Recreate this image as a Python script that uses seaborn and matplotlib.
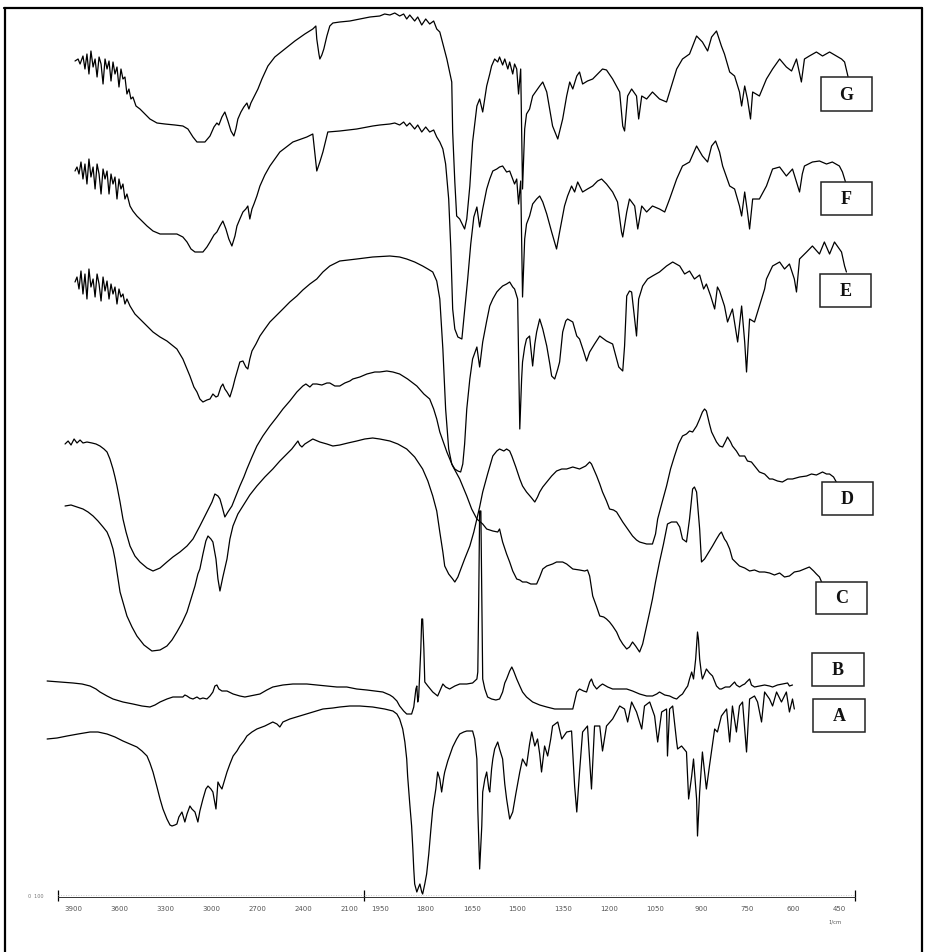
import numpy as np
import matplotlib
matplotlib.use("Agg")
import matplotlib.pyplot as plt
import seaborn as sns
from matplotlib.patches import Rectangle
from matplotlib.lines import Line2D

sns.set_theme(style="white")
plt.rcParams["font.family"] = ["DejaVu Sans"]

# ---------------- data (wavenumber in 1/cm, stacked transmittance in arbitrary units) -------------
g_wn = [3889, 3869, 3856, 3837, 3824, 3811, 3798, 3785, 3771, 3758, 3745, 3732, 3719, 3706, 3693, 3680, 3667, 3654,
        3641, 3628, 3615, 3602, 3589, 3576, 3563, 3550, 3537, 3524, 3511, 3491, 3465, 3432, 3400, 3354, 3302, 3237,
        3185, 3152, 3119, 3093, 3041, 3008, 2982, 2963, 2950, 2930, 2911, 2891, 2871, 2852, 2839, 2826, 2806, 2787,
        2767, 2754, 2741, 2721, 2695, 2669, 2630, 2585, 2519, 2454, 2389, 2337, 2317, 2311, 2297, 2291, 2278, 2265,
        2245, 2226, 2206, 2161, 2095, 2030, 1982, 1950, 1934, 1917, 1901, 1885, 1872, 1862, 1852, 1836, 1826, 1813,
        1800, 1787, 1774, 1764, 1754, 1731, 1715, 1712, 1705, 1699, 1689, 1673, 1666, 1656, 1647, 1633, 1624, 1614,
        1601, 1591, 1585, 1575, 1565, 1559, 1549, 1542, 1532, 1526, 1516, 1510, 1503, 1497, 1490, 1484, 1477, 1471,
        1461, 1451, 1428, 1418, 1405, 1386, 1369, 1353, 1340, 1330, 1320, 1307, 1298, 1288, 1272, 1255, 1239, 1223,
        1210, 1190, 1167, 1157, 1151, 1141, 1128, 1112, 1105, 1095, 1079, 1060, 1037, 1014, 1004, 981, 962, 939, 916,
        897, 880, 867, 851, 835, 825, 808, 792, 776, 769, 759, 750, 740, 733, 711, 688, 668, 645, 623, 606, 590, 574,
        564, 548, 525, 505, 482, 460, 443, 433, 420]
g_t = [836, 838, 833, 841, 828, 843, 823, 846, 830, 838, 820, 840, 833, 813, 838, 828, 836, 816,
       835, 823, 830, 810, 828, 818, 820, 803, 808, 798, 800, 791, 788, 783, 778, 774, 773, 772,
       771, 768, 760, 755, 755, 761, 770, 774, 772, 780, 785, 776, 766, 761, 768, 778, 785, 790,
       794, 788, 794, 800, 808, 818, 831, 840, 848, 856, 863, 868, 871, 858, 843, 838, 842, 848,
       861, 871, 874, 875, 876, 878, 880, 881, 883, 882, 884, 881, 883, 878, 882, 876, 880, 872,
       878, 873, 876, 868, 865, 838, 815, 765, 715, 681, 678, 668, 678, 711, 755, 791, 798, 785,
       811, 823, 831, 838, 835, 840, 832, 838, 828, 835, 823, 833, 828, 803, 828, 708, 768, 783,
       788, 801, 811, 815, 805, 771, 758, 778, 801, 815, 808, 821, 825, 813, 816, 818, 823, 828,
       827, 818, 805, 771, 766, 801, 808, 801, 778, 801, 798, 805, 798, 795, 805, 828, 838, 843, 861,
       855, 846, 860, 866, 851, 843, 825, 821, 805, 791, 811, 798, 778, 805, 801, 818, 828, 838, 830, 826, 838, 815,
       838, 841, 845, 841, 845, 841, 838, 835, 818]

f_wn = [3889, 3876, 3863, 3850, 3837, 3824, 3811, 3798, 3785, 3771, 3758, 3745, 3732, 3719, 3706, 3693, 3680, 3667,
        3654, 3641, 3628, 3615, 3602, 3589, 3576, 3563, 3550, 3530, 3511, 3485, 3452, 3419, 3380, 3334, 3269, 3224,
        3185, 3158, 3132, 3106, 3054, 3028, 3008, 2982, 2963, 2943, 2924, 2904, 2885, 2865, 2845, 2832, 2813, 2793,
        2774, 2761, 2748, 2734, 2721, 2702, 2682, 2650, 2617, 2552, 2467, 2376, 2337, 2324, 2311, 2291, 2271, 2239,
        2161, 2050, 1973, 1950, 1917, 1901, 1885, 1872, 1862, 1852, 1836, 1826, 1813, 1800, 1787, 1774, 1764, 1754,
        1744, 1735, 1725, 1718, 1712, 1705, 1695, 1682, 1673, 1663, 1653, 1643, 1633, 1624, 1614, 1601, 1591, 1581,
        1568, 1559, 1549, 1536, 1526, 1516, 1510, 1503, 1497, 1490, 1484, 1477, 1471, 1461, 1451, 1438, 1428, 1418,
        1405, 1389, 1373, 1363, 1347, 1337, 1324, 1314, 1304, 1288, 1272, 1255, 1239, 1226, 1210, 1190, 1174, 1161,
        1157, 1144, 1135, 1118, 1108, 1095, 1079, 1060, 1037, 1020, 1004, 981, 962, 939, 916, 897, 880, 867, 854,
        841, 831, 808, 792, 776, 769, 759, 750, 743, 733, 711, 688, 668, 645, 623, 603, 590, 580, 571, 564, 538,
        515, 492, 473, 450, 440, 430]
f_t = [726, 730, 723, 735, 718, 733, 713, 738, 720, 730, 708, 733, 723, 703, 728, 718, 726, 703,
       723, 713, 720, 698, 718, 708, 713, 698, 703, 691, 686, 681, 676, 671, 666, 663, 663, 663,
       660, 655, 648, 645, 645, 650, 655, 662, 665, 671, 676, 668, 658, 651, 661, 671, 678, 685,
       688, 691, 678, 688, 693, 701, 711, 722, 731, 745, 755, 760, 763, 745, 726, 735, 745, 765,
       766, 768, 771, 772, 773, 774, 772, 775, 771, 774, 768, 772, 765, 770, 765, 767, 760, 755,
       748, 733, 698, 648, 588, 568, 560, 558, 586, 618, 653, 680, 690, 670, 688, 708, 718, 726,
       728, 730, 731, 725, 726, 718, 713, 718, 693, 716, 600, 658, 673, 681, 693, 698, 701, 695,
       683, 665, 648, 665, 691, 701, 711, 705, 715, 705, 708, 711, 716, 718, 713, 705, 695, 665,
       660, 685, 698, 691, 668, 691, 685, 691, 688, 685, 698, 718, 731, 735, 751, 741, 735, 751, 756,
       745, 731, 711, 708, 691, 681, 705, 685, 668, 698, 698, 711, 728, 730, 721, 728, 715, 705, 723, 731, 735,
       736, 733, 735, 731, 725, 715]

e_wn = [3889, 3876, 3863, 3850, 3837, 3824, 3811, 3798, 3785, 3771, 3758, 3745, 3732, 3719, 3706, 3693, 3680, 3667,
        3654, 3641, 3628, 3615, 3602, 3589, 3576, 3563, 3550, 3530, 3498, 3465, 3419, 3380, 3334, 3289, 3256, 3224,
        3185, 3158, 3139, 3113, 3093, 3074, 3054, 3028, 3008, 2989, 2969, 2956, 2937, 2924, 2911, 2897, 2878, 2858,
        2845, 2826, 2813, 2793, 2774, 2761, 2748, 2734, 2708, 2682, 2650, 2617, 2571, 2532, 2487, 2441, 2402, 2356,
        2311, 2271, 2226, 2161, 2050, 1973, 1917, 1885, 1862, 1836, 1810, 1793, 1777, 1764, 1754, 1744, 1735, 1725,
        1715, 1705, 1695, 1686, 1679, 1673, 1666, 1656, 1647, 1633, 1624, 1614, 1601, 1591, 1581, 1568, 1559, 1549,
        1536, 1526, 1516, 1510, 1500, 1493, 1487, 1484, 1477, 1471, 1461, 1451, 1444, 1438, 1428, 1418, 1405, 1395,
        1389, 1379, 1369, 1363, 1353, 1343, 1337, 1320, 1307, 1298, 1285, 1275, 1265, 1249, 1232, 1219, 1210, 1190,
        1170, 1157, 1151, 1144, 1135, 1128, 1118, 1112, 1105, 1092, 1076, 1060, 1037, 1014, 994, 971, 955, 939, 923,
        906, 893, 884, 870, 857, 848, 841, 825, 815, 799, 782, 769, 759, 753, 743, 727, 711, 694, 688, 668, 645,
        629, 613, 597, 590, 580, 557, 538, 515, 499, 482, 466, 450, 443, 433, 427]
e_t = [615, 620, 608, 626, 603, 623, 598, 628, 610, 618, 600, 623, 613, 596, 620, 606, 616, 598,
       613, 603, 610, 593, 608, 600, 603, 593, 598, 591, 583, 578, 571, 565, 560, 556, 552, 548,
       538, 528, 521, 510, 505, 498, 495, 497, 498, 503, 500, 501, 510, 513, 508, 505, 500, 510,
       518, 528, 535, 536, 530, 528, 538, 546, 553, 561, 568, 575, 582, 588, 595, 601, 607, 613,
       618, 625, 631, 636, 638, 640, 641, 640, 638, 635, 631, 628, 625, 616, 598, 548, 488, 448,
       433, 428, 426, 425, 433, 453, 488, 518, 538, 550, 530, 555, 576, 591, 598, 605, 608, 611,
       613, 615, 610, 608, 598, 468, 518, 535, 550, 558, 561, 531, 553, 565, 578, 568, 551, 533,
       521, 518, 528, 535, 565, 576, 578, 575, 561, 558, 546, 536, 545, 553, 561, 558, 556, 553,
       530, 526, 551, 601, 606, 605, 578, 561, 598, 611, 618, 621, 625, 631, 635, 631, 623, 626, 618,
       622, 608, 613, 601, 588, 610, 606, 591, 575, 588, 555, 591, 555, 525, 578, 575, 591, 608, 618, 631, 635,
       628, 633, 618, 605, 638, 645, 651, 643, 655, 643, 655, 648, 645, 631, 625]

d_wn = [3954, 3915, 3876, 3837, 3804, 3771, 3739, 3706, 3680, 3661, 3641, 3628, 3608, 3595, 3569, 3550, 3517, 3485,
        3439, 3387, 3334, 3289, 3256, 3224, 3191, 3158, 3132, 3106, 3087, 3074, 3054, 3035, 3021, 3002, 2989, 2969,
        2956, 2943, 2924, 2897, 2878, 2858, 2826, 2793, 2748, 2702, 2650, 2598, 2552, 2506, 2474, 2434, 2422, 2408,
        2389, 2337, 2291, 2245, 2206, 2161, 2108, 2050, 1999, 1973, 1950, 1917, 1891, 1862, 1836, 1810, 1793, 1777,
        1764, 1754, 1744, 1738, 1725, 1712, 1705, 1695, 1689, 1673, 1656, 1643, 1633, 1624, 1614, 1598, 1581, 1568,
        1559, 1545, 1536, 1526, 1519, 1506, 1493, 1484, 1471, 1457, 1444, 1435, 1428, 1418, 1405, 1389, 1373, 1356,
        1340, 1320, 1298, 1278, 1265, 1259, 1249, 1242, 1232, 1223, 1210, 1200, 1187, 1177, 1167, 1157, 1141, 1125,
        1112, 1102, 1079, 1060, 1050, 1043, 1030, 1014, 1001, 988, 975, 962, 949, 939, 929, 916, 906, 897, 890, 884,
        874, 867, 851, 841, 831, 821, 815, 805, 799, 786, 776, 759, 750, 737, 724, 711, 694, 678, 668, 652, 636, 619,
        603, 580, 557, 541, 525, 505, 492, 482, 469, 460]
d_t = [391, 392, 390, 388, 385, 381, 376, 370, 365, 358, 348, 338, 318, 305, 291, 281, 270, 261,
       252, 246, 247, 251, 257, 265, 274, 285, 298, 311, 323, 328, 343, 356, 361, 358, 355, 338,
       318, 306, 320, 338, 358, 371, 383, 391, 402, 411, 420, 428, 436, 443, 448, 456, 452, 450,
       453, 458, 455, 453, 451, 452, 454, 456, 458, 459, 458, 456, 453, 448, 440, 428, 416, 401,
       386, 365, 345, 331, 323, 318, 315, 320, 325, 338, 351, 365, 378, 390, 405, 423, 441, 446,
       448, 446, 448, 446, 441, 430, 418, 411, 405, 400, 395, 400, 405, 410, 415, 421, 426, 428,
       428, 430, 428, 431, 435, 433, 426, 421, 413, 405, 396, 388, 387, 385, 380, 375, 368, 361,
       357, 355, 353, 353, 363, 378, 393, 411, 428, 441, 453, 461, 463, 466, 465, 471, 478, 485, 488, 486,
       473, 465, 455, 451, 450, 456, 460, 455, 451, 446, 441, 441, 436, 435, 430, 425, 423, 418, 418, 416, 415, 418,
       418, 420, 421, 423, 422, 425, 423, 423, 420, 415]

c_wn = [3954, 3934, 3915, 3895, 3876, 3856, 3837, 3811, 3778, 3752, 3726, 3700, 3680, 3661, 3641, 3628, 3615, 3595,
        3576, 3556, 3530, 3498, 3465, 3419, 3380, 3334, 3289, 3250, 3204, 3158, 3119, 3074, 3028, 2995, 2976, 2956,
        2943, 2930, 2911, 2891, 2865, 2839, 2813, 2787, 2767, 2734, 2702, 2663, 2617, 2571, 2532, 2487, 2441, 2422,
        2402, 2382, 2356, 2337, 2311, 2278, 2245, 2226, 2193, 2161, 2128, 2095, 2076, 2030, 1992, 1966, 1950, 1927,
        1907, 1885, 1859, 1829, 1806, 1787, 1774, 1764, 1754, 1731, 1712, 1689, 1666, 1650, 1633, 1614, 1601, 1581,
        1565, 1559, 1549, 1536, 1526, 1516, 1503, 1493, 1484, 1471, 1457, 1438, 1428, 1418, 1405, 1386, 1373, 1353,
        1340, 1320, 1298, 1281, 1272, 1265, 1255, 1242, 1232, 1219, 1210, 1200, 1190, 1177, 1167, 1157, 1144, 1135,
        1125, 1115, 1102, 1092, 1079, 1069, 1060, 1050, 1037, 1024, 1011, 998, 981, 971, 962, 949, 939, 929, 923,
        916, 906, 900, 890, 884, 874, 864, 851, 841, 835, 825, 818, 808, 799, 786, 776, 759, 743, 727, 711, 694, 678,
        662, 645, 629, 613, 597, 580, 564, 548, 534, 525, 515, 508]
c_t = [453, 456, 452, 458, 454, 457, 454, 455, 454, 453, 451, 448, 445, 438, 428, 420, 411, 395,
       378, 365, 351, 341, 335, 329, 326, 329, 335, 340, 345, 351, 358, 371, 385, 395, 403, 401,
       398, 391, 380, 385, 391, 401, 411, 420, 428, 440, 451, 461, 471, 480, 488, 496, 505, 508,
       511, 513, 510, 513, 513, 512, 514, 514, 511, 511, 514, 516, 518, 520, 523, 525, 525, 526,
       525, 523, 518, 511, 503, 498, 488, 478, 465, 445, 431, 418, 401, 388, 378, 373, 368, 366,
       365, 368, 355, 343, 335, 326, 318, 317, 315, 315, 313, 313, 320, 328, 331, 333, 335, 335,
       333, 328, 327, 326, 327, 321, 301, 290, 281, 280, 278, 275, 271, 265, 258, 253, 248, 250,
       255, 251, 245, 253, 271, 285, 298, 315, 335, 353, 373, 375, 375, 370, 358, 355, 378, 408, 410,
       405, 368, 335, 338, 341, 346, 351, 358, 363, 365, 358, 355, 348, 338, 334, 331, 329, 326, 327, 325, 325, 324,
       322, 324, 320, 321, 325, 326, 328, 330, 326, 323, 320, 315]

b_wn = [4071, 3987, 3902, 3843, 3791, 3752, 3726, 3680, 3641, 3576, 3511, 3452, 3400, 3367, 3334, 3289, 3250, 3217,
        3185, 3172, 3158, 3139, 3119, 3093, 3074, 3054, 3028, 3008, 2989, 2976, 2963, 2950, 2930, 2897, 2857, 2813,
        2780, 2748, 2715, 2682, 2637, 2598, 2532, 2467, 2422, 2376, 2311, 2245, 2180, 2115, 2050, 1992, 1966, 1940,
        1917, 1907, 1894, 1885, 1872, 1862, 1846, 1839, 1836, 1832, 1829, 1826, 1823, 1816, 1813, 1810, 1806, 1803,
        1793, 1777, 1761, 1744, 1735, 1722, 1705, 1689, 1666, 1647, 1633, 1630, 1627, 1624, 1620, 1617, 1614, 1607,
        1598, 1585, 1571, 1559, 1549, 1542, 1536, 1526, 1519, 1513, 1503, 1493, 1484, 1471, 1451, 1428, 1405, 1379,
        1353, 1330, 1320, 1314, 1307, 1298, 1285, 1275, 1265, 1259, 1252, 1242, 1232, 1223, 1206, 1190, 1167, 1144,
        1125, 1102, 1079, 1060, 1046, 1037, 1020, 1004, 991, 981, 971, 962, 952, 945, 939, 932, 926, 919, 913, 910,
        906, 900, 897, 890, 884, 874, 864, 851, 841, 835, 822, 808, 792, 786, 776, 766, 759, 753, 743, 737, 727, 711,
        694, 678, 668, 652, 636, 619, 613, 603]
b_t = [216, 215, 214, 213, 211, 208, 205, 201, 198, 195, 193, 191, 190, 192, 195, 198, 200, 200,
       200, 202, 201, 199, 198, 200, 198, 199, 198, 201, 205, 211, 212, 208, 206, 206, 203, 201,
       200, 201, 202, 203, 207, 210, 212, 213, 213, 213, 212, 211, 210, 210, 208, 207, 206, 205,
       202, 200, 196, 191, 186, 183, 183, 190, 198, 208, 211, 195, 200, 248, 278, 278, 248, 215,
       211, 205, 201, 213, 210, 208, 211, 213, 213, 214, 218, 225, 298, 386, 386, 298, 218, 208,
       200, 198, 197, 198, 205, 214, 218, 226, 230, 226, 218, 211, 205, 200, 195, 192, 190, 188,
       188, 188, 188, 196, 205, 208, 206, 205, 215, 218, 212, 208, 211, 213, 210, 208, 208, 208,
       206, 203, 201, 201, 203, 205, 202, 201, 199, 198, 201, 203, 208, 211, 218, 225, 218, 238, 265, 258,
       238, 223, 218, 223, 228, 224, 221, 211, 208, 208, 210, 210, 215, 212, 210, 212, 213, 215, 218, 212, 210, 211,
       212, 211, 210, 212, 213, 214, 211, 212]

a_wn = [4071, 4006, 3941, 3869, 3791, 3739, 3680, 3628, 3576, 3530, 3485, 3452, 3419, 3400, 3380, 3354, 3334, 3315,
        3289, 3269, 3256, 3237, 3224, 3211, 3191, 3178, 3172, 3158, 3139, 3126, 3106, 3087, 3074, 3054, 3035, 3021,
        3002, 2989, 2969, 2956, 2943, 2930, 2911, 2897, 2878, 2857, 2832, 2813, 2787, 2767, 2734, 2702, 2650, 2598,
        2571, 2552, 2532, 2487, 2422, 2356, 2271, 2206, 2161, 2095, 2030, 1973, 1934, 1907, 1894, 1885, 1875, 1868,
        1862, 1859, 1852, 1846, 1842, 1839, 1836, 1829, 1823, 1819, 1813, 1810, 1803, 1797, 1790, 1783, 1777, 1767,
        1761, 1754, 1748, 1741, 1738, 1728, 1712, 1699, 1689, 1676, 1666, 1647, 1640, 1633, 1630, 1624, 1617, 1614,
        1607, 1601, 1594, 1591, 1585, 1581, 1575, 1565, 1559, 1549, 1542, 1536, 1526, 1516, 1506, 1493, 1484, 1471,
        1461, 1454, 1444, 1435, 1428, 1422, 1412, 1402, 1392, 1386, 1369, 1356, 1340, 1324, 1314, 1307, 1298, 1288,
        1272, 1259, 1249, 1232, 1223, 1210, 1190, 1167, 1151, 1141, 1128, 1112, 1095, 1086, 1069, 1053, 1043, 1030,
        1014, 1011, 1004, 994, 981, 978, 965, 949, 942, 932, 926, 916, 913, 906, 897, 884, 874, 857, 848, 835, 818,
        808, 799, 786, 776, 766, 753, 743, 727, 717, 704, 694, 678, 668, 655, 639, 623, 613, 603, 597]
a_t = [158, 159, 161, 163, 165, 165, 163, 160, 156, 153, 150, 146, 141, 134, 125, 110, 98, 88,
       78, 72, 71, 72, 73, 80, 85, 78, 75, 83, 91, 88, 85, 75, 86, 98, 108, 111,
       108, 105, 88, 115, 111, 108, 118, 125, 133, 141, 146, 151, 156, 161, 165, 168, 171, 175,
       173, 170, 175, 178, 181, 184, 188, 189, 190, 191, 191, 190, 188, 186, 183, 178, 168, 155,
       138, 121, 93, 71, 48, 28, 13, 5, 10, 13, 5, 3, 13, 23, 43, 68, 88, 108,
       125, 118, 105, 120, 125, 136, 150, 158, 163, 165, 166, 166, 158, 138, 88, 28, 71, 105,
       118, 125, 108, 105, 128, 138, 148, 155, 148, 138, 113, 98, 78, 85, 103, 125, 138, 131,
       153, 165, 151, 158, 143, 125, 151, 141, 158, 171, 175, 158, 165, 166, 111, 85, 125, 165,
       171, 108, 171, 171, 146, 171, 178, 191, 188, 175, 195, 185, 168, 191, 195, 181, 155, 185,
       188, 141, 188, 191, 155, 148, 151, 145, 98, 121, 138, 98, 61, 105, 145, 108, 131, 168, 165, 181, 188,
       155, 191, 165, 191, 195, 145, 198, 201, 195, 175, 205, 198, 191, 205, 195, 205, 185, 198, 188]

tick_values = [3900, 3600, 3300, 3000, 2700, 2400, 2100, 1950, 1800, 1650, 1500, 1350, 1200, 1050, 900, 750, 600, 450]
tick_labels = [str(v) for v in tick_values]
series_names = ["G", "F", "E", "D", "C", "B", "A"]

# ---------------- figure ----------------
W, H = 931, 953
fig = plt.figure(figsize=(W / 100, H / 100), dpi=100)
fig.patch.set_facecolor("white")
ax = fig.add_axes([58 / W, 55 / H, 796.7 / W, 888 / H])


def fwd(w):
    w = np.asarray(w, dtype=float)
    return np.where(w <= 2000, 2 * w, w + 2000)


def inv(u):
    u = np.asarray(u, dtype=float)
    return np.where(u <= 4000, u / 2, u - 2000)


ax.set_xscale("function", functions=(fwd, inv))

curves = [(g_wn, g_t), (f_wn, f_t), (e_wn, e_t), (d_wn, d_t), (c_wn, c_t), (b_wn, b_t), (a_wn, a_t)]
for wn, t in curves:
    sns.lineplot(x=wn, y=t, ax=ax, color="black", linewidth=0.9, sort=False, estimator=None)
for ln in ax.lines:
    ln.set_clip_on(False)

ax.set_xlim(4000, 400)
ax.set_ylim(0, 888)
ax.set_xlabel("")
ax.set_ylabel("")
ax.set_yticks([])
for s in ["left", "top", "right"]:
    ax.spines[s].set_visible(False)
ax.spines["bottom"].set_color("#333333")
ax.spines["bottom"].set_linewidth(0.7)

minor = list(range(3950, 2000, -50)) + list(range(1975, 400, -25))
ax.set_xticks(tick_values)
ax.set_xticklabels(tick_labels, fontsize=5, color="#555555")
ax.set_xticks(minor, minor=True)
ax.xaxis.set_minor_formatter(matplotlib.ticker.NullFormatter())
ax.tick_params(axis="x", which="major", length=4, width=0.7, direction="out", pad=2, color="#222222")
ax.tick_params(axis="x", which="minor", length=2.5, width=0.5, direction="out", color="#444444")
ax.grid(False)
# ruler marks (ends and scale break)
ax.vlines([4000, 2000, 400], -4, 7, color="black", linewidth=0.9, clip_on=False)
ax.axhline(2.5, color="#bbbbbb", linewidth=0.6, linestyle=(0, (1, 2)))

fig.text(835 / W, 1 - 922 / H, "1/cm", fontsize=3.8, color="#555555", ha="center", va="center")
fig.text(36 / W, 1 - 897 / H, "0  100", fontsize=3.5, color="#777777", ha="center", va="center")

# label boxes
boxes = {"G": (821, 78, 872, 112), "F": (821, 183, 872, 216), "E": (820, 275, 871, 308),
         "D": (822, 483, 873, 516), "C": (816, 583, 867, 615), "B": (812, 654, 864, 687),
         "A": (813, 700, 865, 733)}
for name in series_names:
    x0, y0, x1, y1 = boxes[name]
    fig.add_artist(Rectangle((x0 / W, 1 - y1 / H), (x1 - x0) / W, (y1 - y0) / H,
                             transform=fig.transFigure, fill=True, facecolor="white",
                             edgecolor="#222222", linewidth=1.1))
    fig.text((x0 + x1) / 2 / W, 1 - (y0 + y1) / 2 / H, name, family=["Liberation Serif"],
             fontweight="bold", fontsize=13, ha="center", va="center", color="#111111")

# outer frame
fig.add_artist(Line2D([4 / W, 922 / W], [1 - 8.5 / H, 1 - 8.5 / H], transform=fig.transFigure, color="black", lw=1.6))
fig.add_artist(Line2D([5 / W, 5 / W], [1 - 8.5 / H, 0], transform=fig.transFigure, color="black", lw=1.6))
fig.add_artist(Line2D([922 / W, 922 / W], [1 - 8.5 / H, 0], transform=fig.transFigure, color="black", lw=1.6))

fig.savefig("out.png", dpi=100, facecolor="white")
